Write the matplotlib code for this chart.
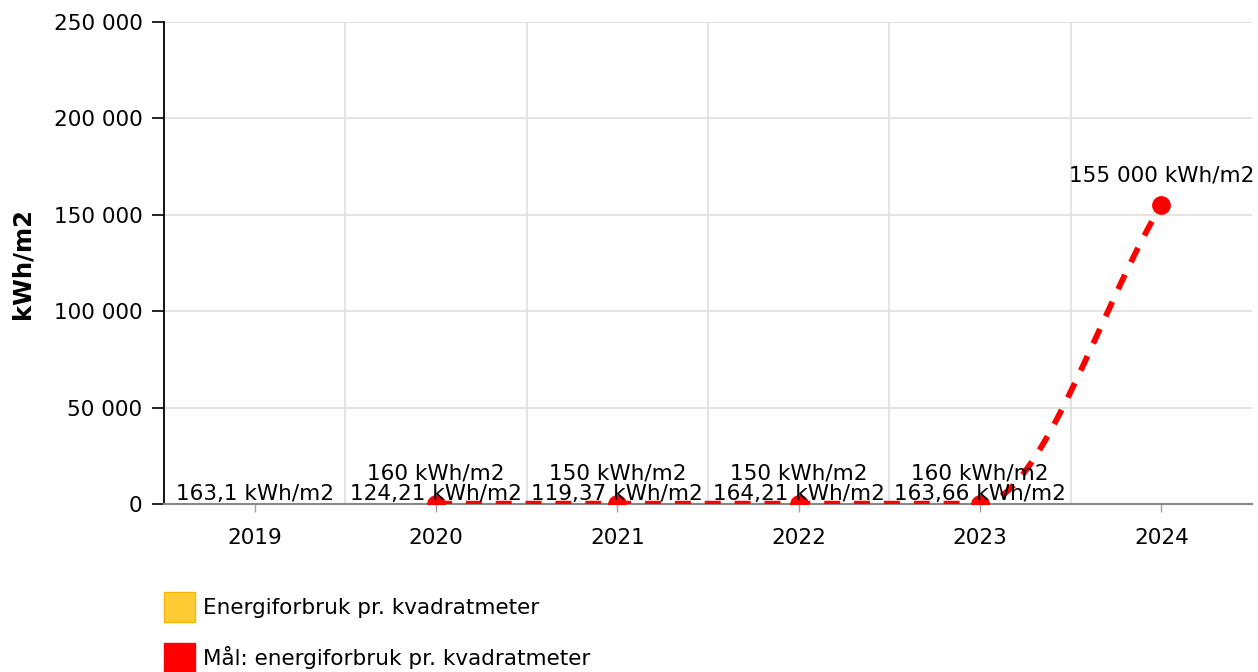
import numpy as np
import matplotlib
matplotlib.use("Agg")
import matplotlib.pyplot as plt
from matplotlib.patches import Patch

years = ["2019", "2020", "2021", "2022", "2023", "2024"]
bar_values = [163.1, 124.21, 119.37, 164.21, 163.66, None]
goal_values = [None, 160, 150, 150, 160, 155000]
bar_name = "Energiforbruk pr. kvadratmeter"
goal_name = "Mål: energiforbruk pr. kvadratmeter"
y_ticks = [0, 50000, 100000, 150000, 200000, 250000]
y_label = "kWh/m2"
unit = "kWh/m2"

BAR_COLOR = "#FFCC33"
BAR_EDGE = "#F5B800"
RED = "#FF0000"
FS = 15.5

plt.rcParams["font.family"] = ["DejaVu Sans"]
plt.rcParams["lines.scale_dashes"] = False

W, H = 1258, 672
fig = plt.figure(figsize=(W / 100, H / 100), dpi=100)
ax = fig.add_axes([164 / W, 1 - 504 / H, (1252 - 164) / W, (504 - 22) / H])


def fmt(v):
    if float(v).is_integer():
        s = f"{int(v):,}".replace(",", " ")
    else:
        s = f"{v:,.2f}".rstrip("0").rstrip(".")
        s = s.replace(",", " ").replace(".", ",")
    return s


x = np.arange(len(years))
# bars
bx = [i for i, v in enumerate(bar_values) if v is not None]
bv = [v for v in bar_values if v is not None]
ax.bar(bx, bv, width=0.6, color=BAR_COLOR, edgecolor=BAR_EDGE, linewidth=0.5, zorder=2)
for xi, v in zip(bx, bv):
    ax.annotate(f"{fmt(v)} {unit}", (xi, v), xytext=(0, 2.5), textcoords="offset points",
                ha="center", va="baseline", fontsize=FS, color="black", zorder=5)

# monotone cubic spline (Fritsch-Carlson, as in Chart.js "monotone")
gx = np.array([i for i, v in enumerate(goal_values) if v is not None], dtype=float)
gy = np.array([v for v in goal_values if v is not None], dtype=float)
n = len(gx)
dk = np.diff(gy) / np.diff(gx)
mk = np.zeros(n)
for i in range(n):
    if i == 0:
        mk[i] = dk[0]
    elif i == n - 1:
        mk[i] = dk[-1]
    elif np.sign(dk[i - 1]) != np.sign(dk[i]):
        mk[i] = 0.0
    else:
        mk[i] = (dk[i - 1] + dk[i]) / 2
for i in range(n - 1):
    if abs(dk[i]) < 1e-9:
        mk[i] = mk[i + 1] = 0.0
        continue
    a = mk[i] / dk[i]
    b = mk[i + 1] / dk[i]
    sq = a * a + b * b
    if sq <= 9:
        continue
    tau = 3 / np.sqrt(sq)
    mk[i] = a * tau * dk[i]
    mk[i + 1] = b * tau * dk[i]

cx, cy = [], []
t = np.linspace(0, 1, 80)
for i in range(n - 1):
    d = (gx[i + 1] - gx[i]) / 3
    p0 = np.array([gx[i], gy[i]])
    p1 = np.array([gx[i] + d, gy[i] + mk[i] * d])
    p2 = np.array([gx[i + 1] - d, gy[i + 1] - mk[i + 1] * d])
    p3 = np.array([gx[i + 1], gy[i + 1]])
    bez = ((1 - t) ** 3)[:, None] * p0 + (3 * (1 - t) ** 2 * t)[:, None] * p1 \
        + (3 * (1 - t) * t ** 2)[:, None] * p2 + (t ** 3)[:, None] * p3
    if i > 0:
        bez = bez[1:]
    cx.extend(bez[:, 0]); cy.extend(bez[:, 1])

ax.plot(cx, cy, color=RED, linewidth=4.2, dashes=(11.5, 10), dash_capstyle="butt", zorder=3)
ax.plot(gx, gy, linestyle="none", marker="o", markersize=12.5, color=RED, zorder=4)
for xi, v in zip(gx, gy):
    ax.annotate(f"{fmt(v)} {unit}", (xi, v), xytext=(0, 17.2), textcoords="offset points",
                ha="center", va="baseline", fontsize=FS, color="black", zorder=5)

ax.set_xlim(-0.5, len(years) - 0.5)
ax.set_ylim(0, 250000)
ax.set_xticks(x)
ax.set_xticklabels(years, fontsize=FS)
ax.set_yticks(y_ticks)
ax.set_yticklabels([fmt(v) for v in y_ticks], fontsize=FS)
ax.set_xticks(np.arange(0.5, len(years) - 1, 1), minor=True)
ax.grid(True, axis="y", which="major", color="#e0e0e0", linewidth=1.3, zorder=0)
ax.grid(True, axis="x", which="minor", color="#e0e0e0", linewidth=1.3, zorder=0)
ax.tick_params(axis="x", which="minor", length=0)
ax.tick_params(axis="x", which="major", length=6, width=1, color="#a0a0a0", pad=11)
ax.tick_params(axis="y", length=8.5, width=1.2, color="black", pad=7)
for s in ["top", "right"]:
    ax.spines[s].set_visible(False)
ax.spines["left"].set_color("black")
ax.spines["left"].set_linewidth(1.3)
ax.spines["bottom"].set_color("#888888")
ax.spines["bottom"].set_linewidth(1.5)
ax.set_axisbelow(True)
ax.set_ylabel(y_label, fontsize=17.5, fontweight="bold")
ax.yaxis.set_label_coords(22 / W, 1 - 263 / H, transform=fig.transFigure)
ax.yaxis.label.set_va("center")

handles = [Patch(facecolor=BAR_COLOR, edgecolor=BAR_EDGE, linewidth=1),
           Patch(facecolor=RED, edgecolor=RED)]
fig.legend(handles, [bar_name, goal_name], loc="upper left",
           bbox_to_anchor=(155 / W, 1 - 583 / H), frameon=False, fontsize=FS,
           handlelength=1.44, handleheight=1.8, handletextpad=0.37, labelspacing=0.97,
           borderaxespad=0)

fig.savefig("out.png", dpi=100)
